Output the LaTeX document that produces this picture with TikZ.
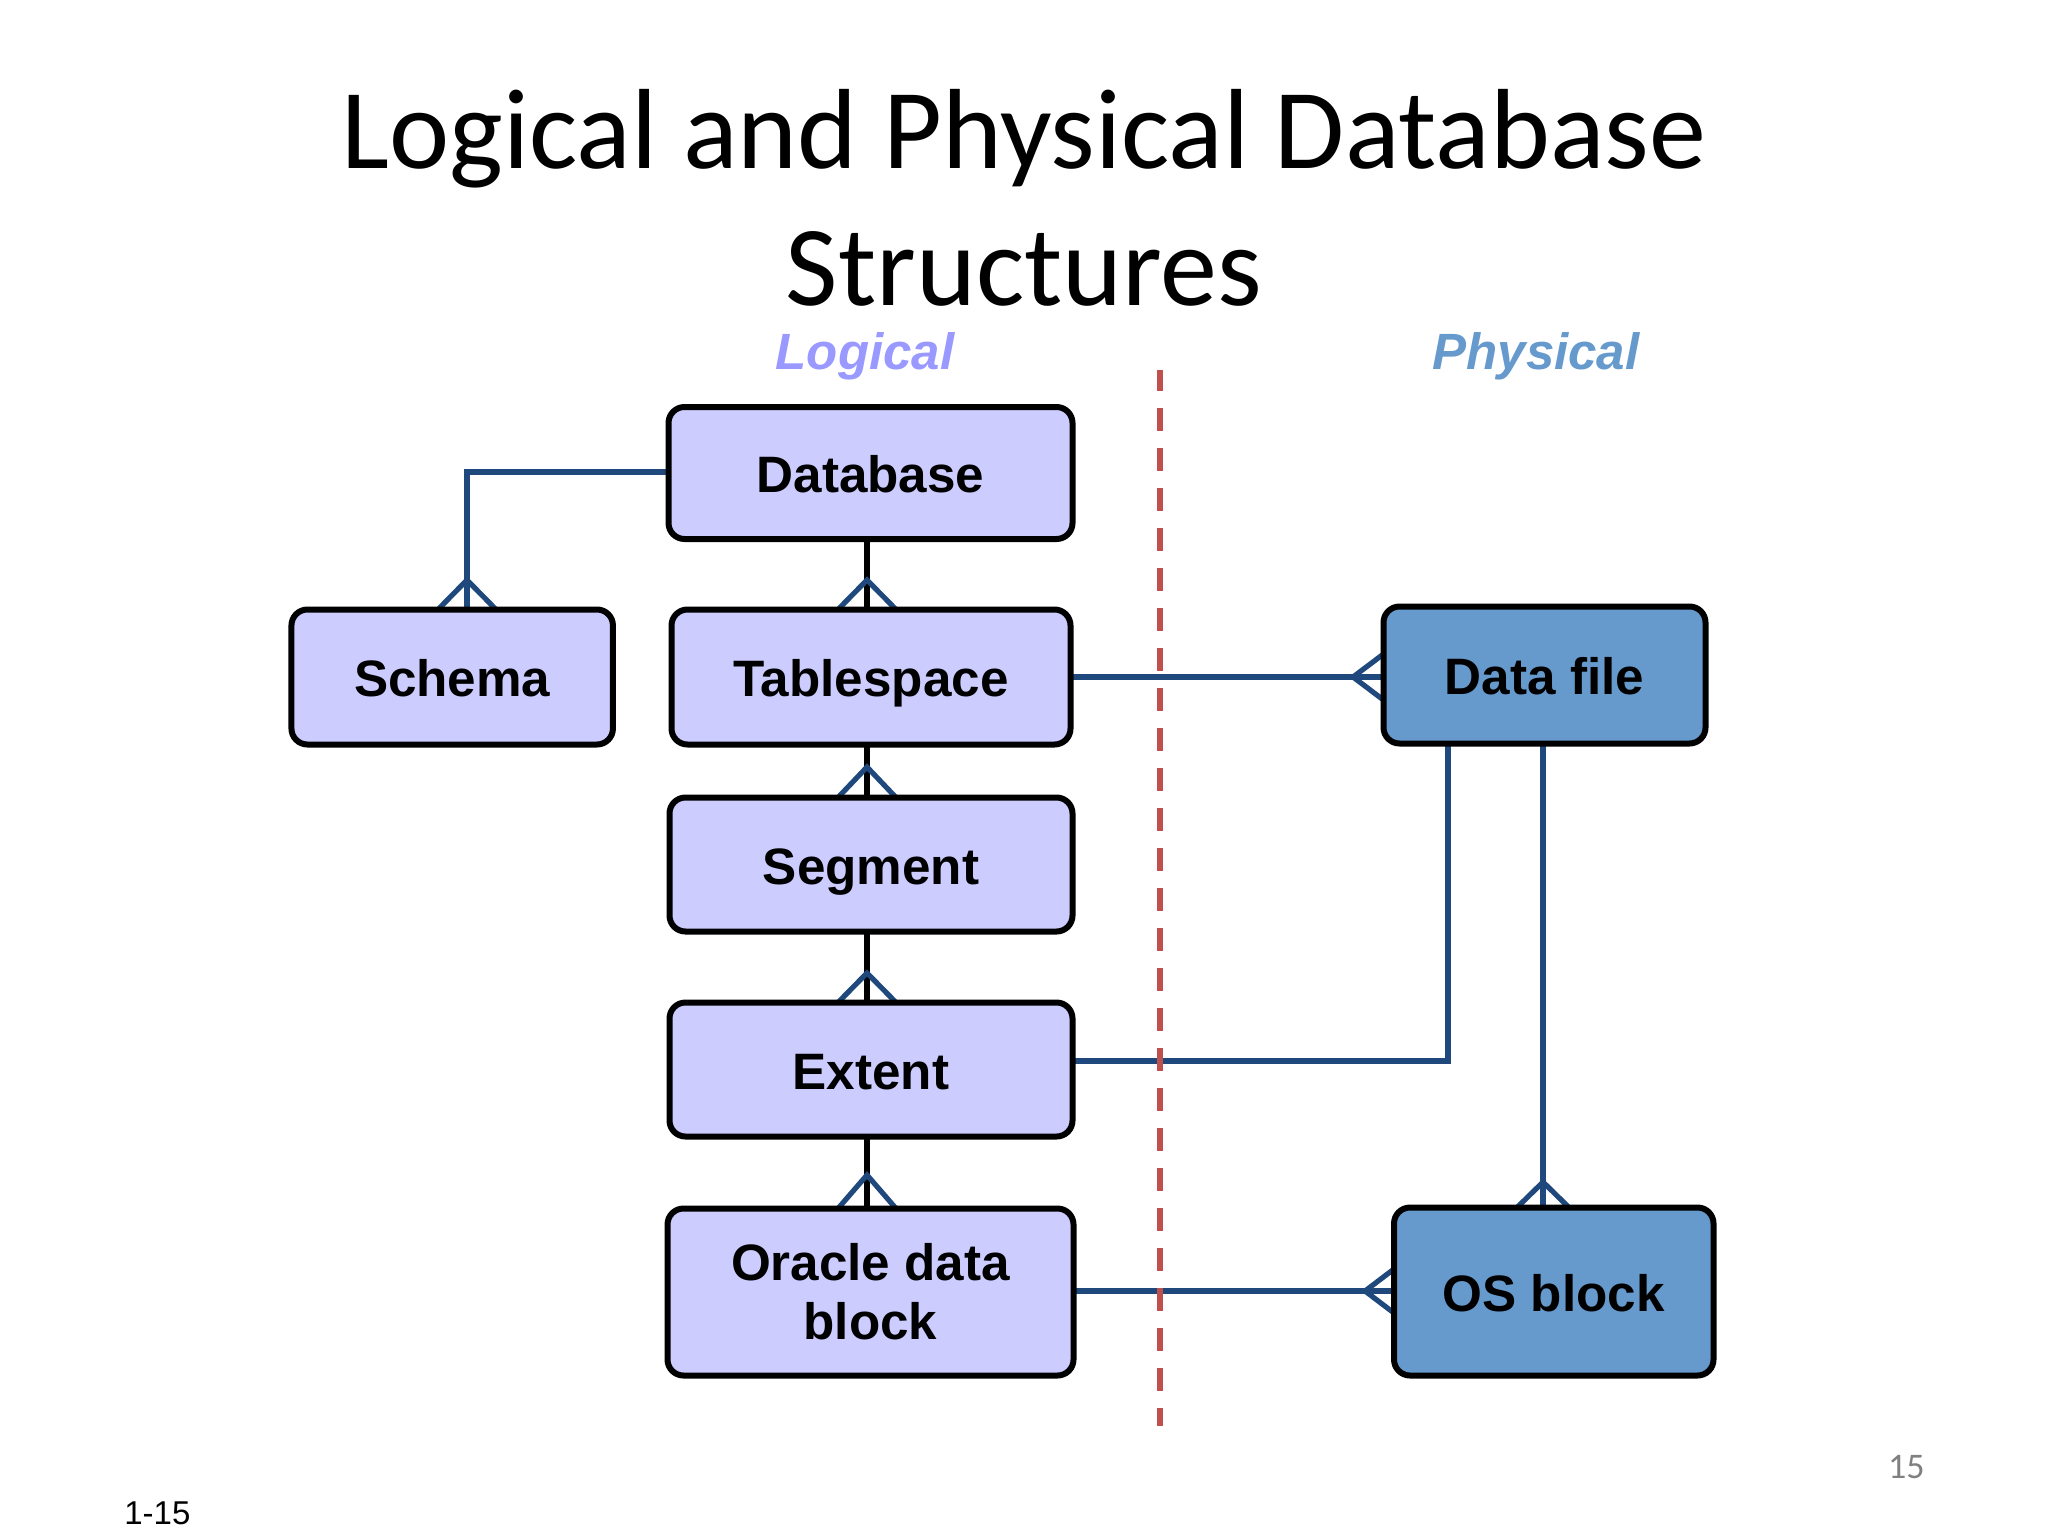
\documentclass[tikz,border=0pt]{standalone}
\usepackage{fontspec}
\setmainfont{Liberation Sans}
\newfontfamily\titlefont{Carlito}
\usetikzlibrary{backgrounds}
\definecolor{logfill}{HTML}{CCCCFF}
\definecolor{physfill}{HTML}{6699CC}
\definecolor{loghead}{HTML}{9999FF}
\definecolor{connblue}{HTML}{1F497D}
\definecolor{divred}{HTML}{C0504D}
\tikzset{
  ebox/.style={draw=black,line width=3pt,rounded corners=8pt,inner sep=0pt,outer sep=0pt,align=center,
    font=\fontsize{25.6}{29.5}\selectfont\bfseries},
  oneline/.style={text height=20.4pt,text depth=0.8pt},
  logbox/.style={ebox,fill=logfill},
  physbox/.style={ebox,fill=physfill},
  link/.style={draw=connblue,line width=2.7pt,line join=miter},
  blacklink/.style={draw=black,line width=2.7pt},
  crowline/.style={draw=connblue,line width=2.6pt,line join=miter},
  divider/.style={draw=divred,line width=2.8pt,dash pattern=on 11.5pt off 8.5pt,dash phase=1pt},
  titletext/.style={font=\titlefont\fontsize{57}{60}\selectfont,anchor=base,inner sep=0pt},
  headtext/.style={font=\fontsize{25.5}{29}\selectfont\bfseries\itshape,anchor=base,inner sep=0pt},
}
\newcommand{\crowdown}[5]{\draw[crowline] (#2,#5 |- #1.north) -- (#3,#5) -- (#4,#5 |- #1.north);}
\newcommand{\crowright}[5]{\draw[crowline] (#5,#2 -| #1.west) -- (#5,#3) -- (#5,#4 -| #1.west);}
\begin{document}
\begin{tikzpicture}[x=0.5pt,y=-0.5pt]
\useasboundingbox (0,0) rectangle (2048,1536);

\node[titletext] (title1) at (1024,168) {Logical and Physical Database};
\node[titletext] (title2) at (1024,305) {Structures};
\node[headtext,text=loghead] (loghead) at (865,369) {Logical};
\node[headtext,text=physfill] (physhead) at (1536,369) {Physical};

\node[logbox,oneline,minimum width=202pt,minimum height=66pt] (db) at (870.5,473) {Database};
\node[logbox,oneline,minimum width=160.75pt,minimum height=67.5pt] (schema) at (452.2,677) {Schema};
\node[logbox,oneline,minimum width=199.5pt,minimum height=67.5pt] (ts) at (871,677) {Tablespace};
\node[logbox,oneline,minimum width=201.5pt,minimum height=67pt] (seg) at (871,864.5) {Segment};
\node[logbox,oneline,minimum width=201.5pt,minimum height=67pt] (ext) at (871,1069.5) {Extent};
\node[logbox,minimum width=203pt,minimum height=83.5pt] (ora) at (870.5,1292) {Oracle data\\block};
\node[physbox,oneline,minimum width=161pt,minimum height=68.5pt] (df) at (1544.5,675) {Data file};
\node[physbox,oneline,minimum width=159.75pt,minimum height=84pt] (os) at (1553.75,1291.5) {OS block};

\coordinate (dbs) at (467,472);
\coordinate (lx) at (867,0);
\coordinate (dfx) at (1448,1061);
\coordinate (tsy) at (0,677);
\coordinate (oray) at (0,1291);
\coordinate (osx) at (1543,0);

\begin{scope}[on background layer]
  \fill[white] (0,0) rectangle (2048,1536);
  \draw[link] (db.west |- dbs) -- (dbs) -- (dbs |- schema.north);
  \draw[blacklink] (lx |- db.south) -- (lx |- ts.north);
  \draw[blacklink] (lx |- ts.south) -- (lx |- seg.north);
  \draw[blacklink] (lx |- seg.south) -- (lx |- ext.north);
  \draw[blacklink] (lx |- ext.south) -- (lx |- ora.north);
  \draw[link] (ts.east |- tsy) -- (df.west |- tsy);
  \draw[link] (dfx |- df.south) -- (dfx) -- (ext.east |- dfx);
  \draw[link] (osx |- df.south) -- (osx |- os.north);
  \draw[link] (ora.east |- oray) -- (os.west |- oray);
  \crowdown{schema}{438}{467}{496}{580}
  \crowdown{ts}{838}{867}{896}{580}
  \crowdown{seg}{838}{867}{896}{767}
  \crowdown{ext}{838}{867}{896}{973}
  \crowdown{ora}{838}{867}{896}{1175}
  \crowdown{os}{1517}{1543}{1569}{1182}
  \crowright{df}{654}{677}{700}{1353}
  \crowright{os}{1269}{1291}{1313}{1365}
\end{scope}

\coordinate (divtop) at (1160,370);
\coordinate (divbot) at (1160,1426);
\draw[divider] (divtop) -- (divbot);

\node[font=\titlefont\fontsize{18}{20}\selectfont,text=black!50,anchor=base east,inner sep=0pt] (pagenum) at (1925,1478) {15};
\node[font=\fontsize{16.5}{18}\selectfont,anchor=base west,inner sep=0pt] (slidenum) at (124,1524) {1-15};
\end{tikzpicture}
\end{document}
